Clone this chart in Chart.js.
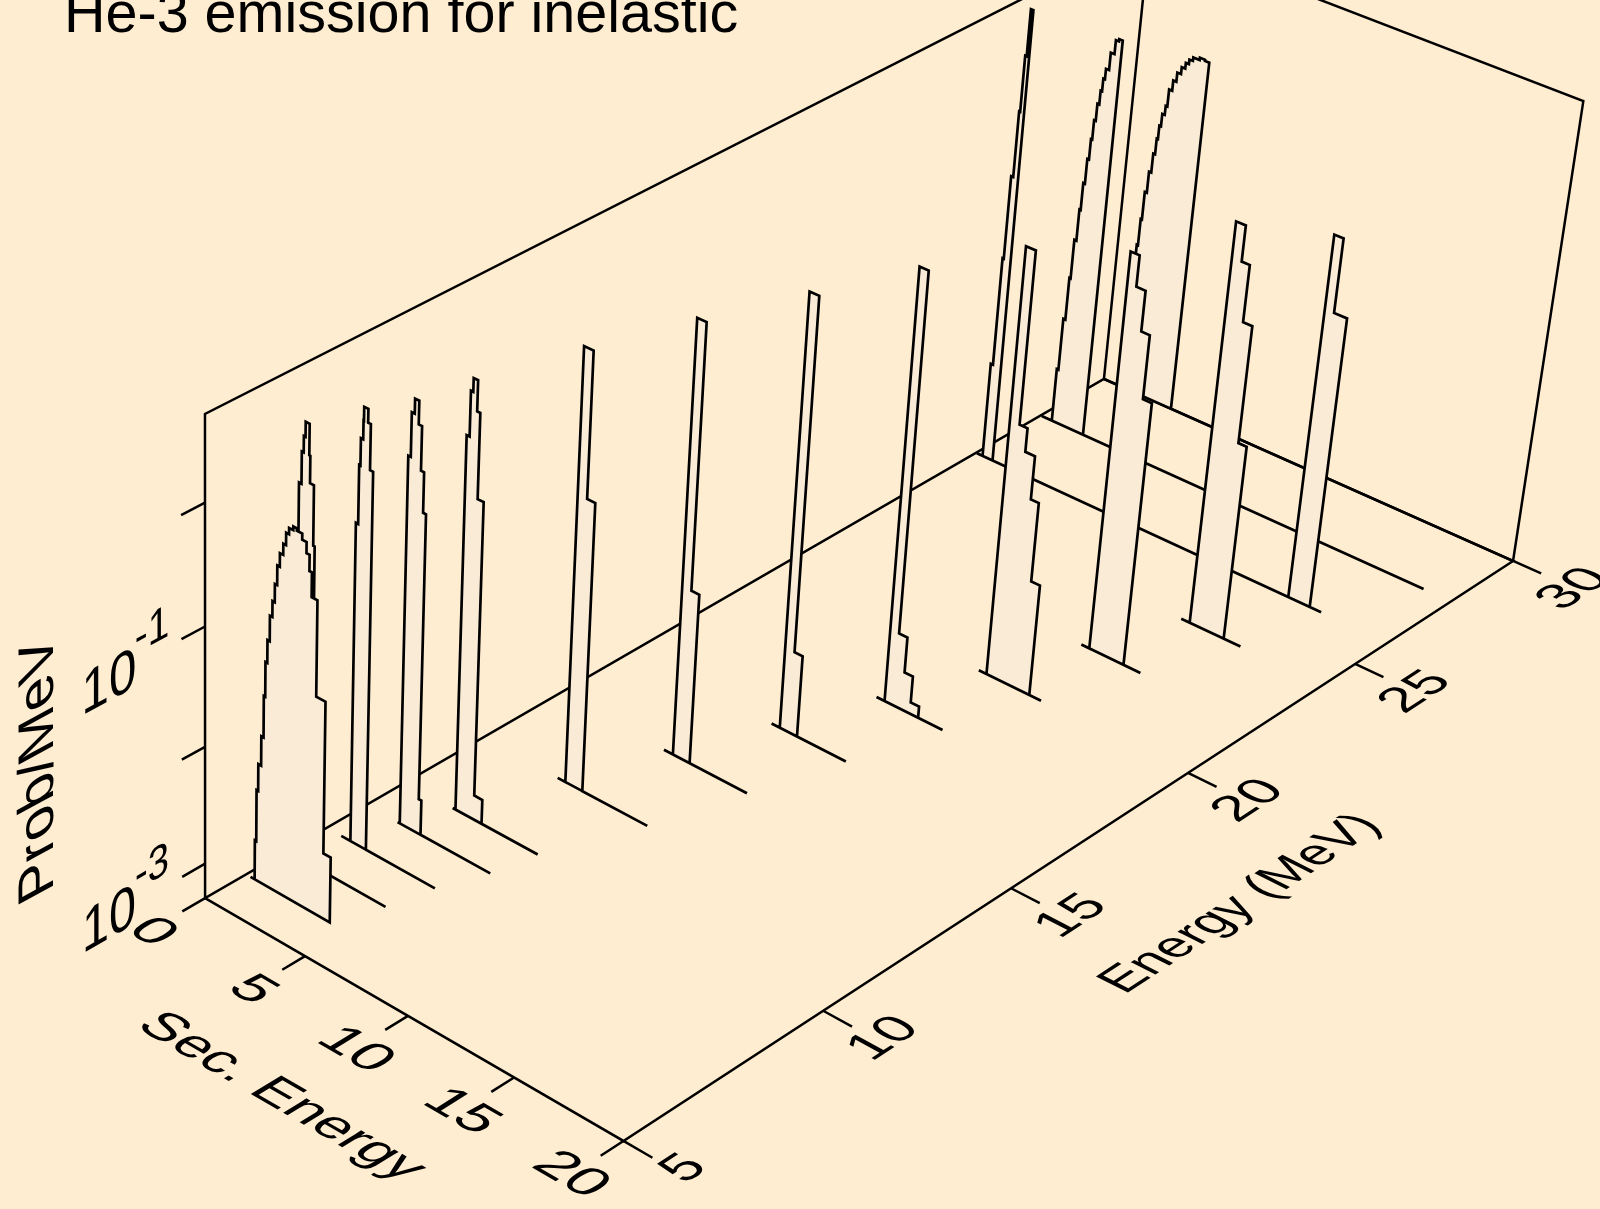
<!DOCTYPE html><html><head><meta charset="utf-8"><style>html,body{margin:0;padding:0;background:#FFEDD2}canvas{display:block}</style></head><body>
<canvas id="c" width="1600" height="1209" style="width:1600px;height:1209px"></canvas>
<script src="https://cdn.jsdelivr.net/npm/chart.js@4"></script>
<script>
// ---- data: bin edges (MeV) and log10(prob/MeV) per incident energy ----
const title="He-3 emission for inelastic";
const secTicks=[0,5,10,15,20];
const energyTicks=[5,10,15,20,25,30];
const probTicks=[-3,-2,-1,0];
const probLabelled=[-3,-1];
const floorLog=-3.3, ceilLog=0.7;
const energies=[6,7,8,9,10,12,14,16,18,20,22,24,26,28,30];
const baseFrom=[0.22,0.40,0.73,1.57,2.37,3.77,5.31,6.99,8.61,10.17,11.81,13.39,0.04,0.05,0];
const baseTo=[4.19,4.94,5.40,6.17,6.58,8.17,9.36,10.59,11.79,13.15,14.62,16.19,16.92,18.73,20];
const S06=[.43,.50,.58,.72,.83,.90,.99,1.10,1.22,1.33,1.44,1.56,1.72,1.85,1.99,2.19,2.36,2.62,2.83,2.98,3.10,3.38,3.83,4.19];
const P06=[-2.96,-2.52,-2.29,-2.04,-1.69,-1.40,-1.21,-1.00,-.87,-.72,-.56,-.45,-.36,-.26,-.21,-.18,-.20,-.25,-.34,-.47,-.67,-1.46,-2.74];
const S07=[.42,.54,.63,.71,.90,.95,1.14,1.21,1.45,1.76];
const P07=[-.16,.10,.23,.35,.10,-.12,-.61,-1.86,-3.21];
const S08=[1.19,1.30,1.36,1.47,1.49,1.69,1.82,1.97];
const P08=[-.60,-.12,.10,.25,.36,.25,-.12];
const S09=[1.68,1.80,1.94,2.14,2.30,2.45,2.59,2.72];
const P09=[-.19,.17,.29,.10,-.26,-.59,-3.0];
const S10=[2.51,2.65,2.76,2.97,3.12,3.41,3.81];
const P10=[-.13,.24,.35,.10,-.60,-3.09];
const S12=[4.15,4.60,4.99];
const P12=[.38,-.83];
const S14=[5.75,6.19,6.57];
const P14=[.40,-1.83];
const S16=[7.39,7.84,8.23];
const P16=[.41,-2.59];
const S18=[9.00,9.42,9.82,10.22,10.62];
const P18=[.41,-2.66,-2.97,-3.20];
const S20=[10.54,10.99,11.36,11.81,12.18,12.59];
const P20=[.37,-1.08,-1.28,-1.65,-2.33];
const S22=[12.19,12.60,13.02,13.41,13.82];
const P22=[.13,-.13,-.47,-1.01];
const S24=[13.79,14.23,14.60,15.02,15.40];
const P24=[.18,-.12,-.60,-1.60];
const S26=[.33,.44,.50,.60,.65,.72,.84,15.37,15.79,16.38];
const P26=[-2.45,-1.49,-.76,-.19,.29,.69,-3.3,-.13,-.76];
const S28=[.57,.65,.75,.81,.91,.97,1.05,1.13,1.19,1.27,1.36,1.43,1.51,1.66,1.84,1.99,2.16];
const P28=[-2.82,-2.35,-1.97,-1.62,-1.34,-1.10,-.88,-.70,-.53,-.38,-.26,-.15,-.06,.09,.21,.23];
const S30=[.85,.92,.98,1.04,1.14,1.25,1.34,1.40,1.48,1.60,1.68,1.83,1.98,2.16,2.33,2.48,2.65,2.96,3.21,3.42];
const P30=[-2.49,-1.98,-1.74,-1.49,-1.30,-1.13,-.99,-.87,-.76,-.68,-.53,-.44,-.36,-.30,-.25,-.21,-.18,-.16,-.17];
const edgesByEnergy=[S06,S07,S08,S09,S10,S12,S14,S16,S18,S20,S22,S24,S26,S28,S30];
const valuesByEnergy=[P06,P07,P08,P09,P10,P12,P14,P16,P18,P20,P22,P24,P26,P28,P30];

// ---- perspective camera fitted to the corners of the plot box ----
const boxCorners=[[0,0,0,205,898],[0,1,0,623.5,1141],[1,1,0,1513,561],[1,0,0,1104,379],[0,0,1,205,414],[1,1,1,1583.3,101]];
function solve(A,b){const n=b.length,M=A.map((r,i)=>[...r,b[i]]);for(let i=0;i<n;i++){let p=i;for(let k=i;k<n;k++)if(Math.abs(M[k][i])>Math.abs(M[p][i]))p=k;[M[i],M[p]]=[M[p],M[i]];for(let k=0;k<n;k++)if(k!==i){const f=M[k][i]/M[i][i];for(let j=i;j<=n;j++)M[k][j]-=f*M[i][j];}}return M.map((r,i)=>r[n]/r[i]);}
const R=[],B=[];for(const [u,v,w,X,Y] of boxCorners){const x=X/1000,y=Y/1000;R.push([u,v,w,1,0,0,0,0,-x*u,-x*v,-x*w]);B.push(x);R.push([0,0,0,0,u,v,w,1,-y*u,-y*v,-y*w]);B.push(y);}
const idx=[...Array(11).keys()];
const cam=solve(idx.map(i=>idx.map(j=>R.reduce((s,r)=>s+r[i]*r[j],0))),idx.map(i=>R.reduce((s,r,k)=>s+r[i]*B[k],0)));
function proj(u,v,w){const d=cam[8]*u+cam[9]*v+cam[10]*w+1;return {x:1000*(cam[0]*u+cam[1]*v+cam[2]*w+cam[3])/d,y:1000*(cam[4]*u+cam[5]*v+cam[6]*w+cam[7])/d};}
const U=e=>(e-5)/25, V=s=>s/20, W=l=>(l-floorLog)/(ceilLog-floorLog);
const pt=(e,s,l)=>proj(U(e),V(s),W(l));

const ink='#000000', fillCol='#FAEBD7', lw=2.7;
const lineBase={showLine:true,pointRadius:0,pointHitRadius:0,borderColor:ink,borderWidth:lw,borderJoinStyle:'miter',borderCapStyle:'butt',borderDash:[100000,0],fill:false,clip:false};
function outline(i){const e=energies[i],S=edgesByEnergy[i],P=valuesByEnergy[i];const o=[pt(e,baseFrom[i],floorLog),pt(e,S[0],floorLog)];
  P.forEach((l,k)=>{o.push(pt(e,S[k],l));o.push(pt(e,S[k+1],l));});
  o.push(pt(e,S[S.length-1],floorLog));o.push(pt(e,baseTo[i],floorLog));o.push(pt(e,baseFrom[i],floorLog));return o;}
const datasets=[];
energies.forEach((e,i)=>datasets.push({...lineBase,label:'E='+e+' MeV',data:outline(i),fill:'shape',backgroundColor:fillCol}));
const seg=(a,b)=>({...lineBase,label:'axis',data:[a,b],borderWidth:lw-.2});
const [tu,tv]=[0.022,0.065];
secTicks.forEach(s=>datasets.push(seg(pt(5,s,floorLog),proj(-tu,V(s),0))));
energyTicks.forEach(e=>datasets.push(seg(pt(e,20,floorLog),proj(U(e),1+tv,0))));
probTicks.forEach(l=>datasets.push(seg(pt(5,0,l),proj(-tu,0,W(l)))));
datasets.push({...lineBase,label:'box',borderWidth:lw-.2,data:[[0,0,0],[0,1,0],[1,1,0],[1,0,0],[0,0,0],[0,0,1],[1,0,1],[1,0,0],[1,0,1],[1,1,1],[1,1,0]].map(c=>proj(...c))});

function planeText(ctx,txt,cx,cy,dirB,dirU,emB,emU){
  const nb=Math.hypot(...dirB),nu=Math.hypot(...dirU);
  const b=[dirB[0]/nb,dirB[1]/nb],up=[dirU[0]/nu,dirU[1]/nu];
  ctx.save();ctx.translate(cx,cy);ctx.transform(b[0]*emB/100,b[1]*emB/100,-up[0]*emU/100,-up[1]*emU/100,0,0);
  ctx.font='100px "Liberation Sans"';ctx.fillStyle=ink;ctx.textAlign='center';ctx.textBaseline='middle';ctx.fillText(txt,0,0);ctx.restore();
}
const diff=(a,b)=>[b.x-a.x,b.y-a.y];
const labels={id:'labels',afterDraw(chart){const ctx=chart.ctx;
  ctx.save();ctx.font='57.5px "Liberation Sans"';ctx.fillStyle=ink;ctx.textAlign='left';ctx.textBaseline='alphabetic';ctx.fillText(title,64,32);ctx.restore();
  secTicks.forEach(s=>{const t=proj(0,V(s),0);planeText(ctx,String(s),t.x-53,t.y+34,diff(proj(0,V(s)-.05,0),proj(0,V(s)+.05,0)),diff(proj(-.05,V(s),0),proj(.05,V(s),0)),60,52);});
  energyTicks.forEach(e=>{const t=proj(U(e),1,0);planeText(ctx,String(e),t.x+61,t.y+28,diff(proj(U(e)-.05,1,0),proj(U(e)+.05,1,0)),diff(proj(U(e),1.05,0),proj(U(e),.95,0)),54,52);});
  probLabelled.forEach(l=>{const t=proj(0,0,W(l));const db=diff(proj(-.05,0,W(l)),proj(.05,0,W(l))),du=[0,-1];
    planeText(ctx,'10',t.x-96,t.y+58,db,du,56,60);planeText(ctx,String(l),t.x-53,t.y+5,db,du,44,47);});
  planeText(ctx,'Sec. Energy',281,1097,diff(proj(0,0,0),proj(0,1,0)),diff(proj(0,.5,0),proj(.1,.5,0)),57,52);
  planeText(ctx,'Energy (MeV)',1241,904,diff(proj(0,1,0),proj(1,1,0)),diff(proj(.5,1,0),proj(.5,.9,0)),50,52);
  planeText(ctx,'Prob/MeV',39,768,diff(proj(0,0,0),proj(0,0,1)),diff(proj(0,0,.5),proj(-.1,0,.5)),58.5,57);
}};
new Chart(document.getElementById('c'),{type:'scatter',data:{datasets},plugins:[labels],options:{responsive:false,animation:false,devicePixelRatio:1,layout:{padding:0},
  scales:{x:{type:'linear',min:0,max:1600,display:false},y:{type:'linear',min:0,max:1209,reverse:true,display:false}},
  plugins:{legend:{display:false},tooltip:{enabled:false},title:{display:false},filler:{drawTime:'beforeDatasetDraw',propagate:false}},
  elements:{line:{tension:0}}}});
</script></body></html>
